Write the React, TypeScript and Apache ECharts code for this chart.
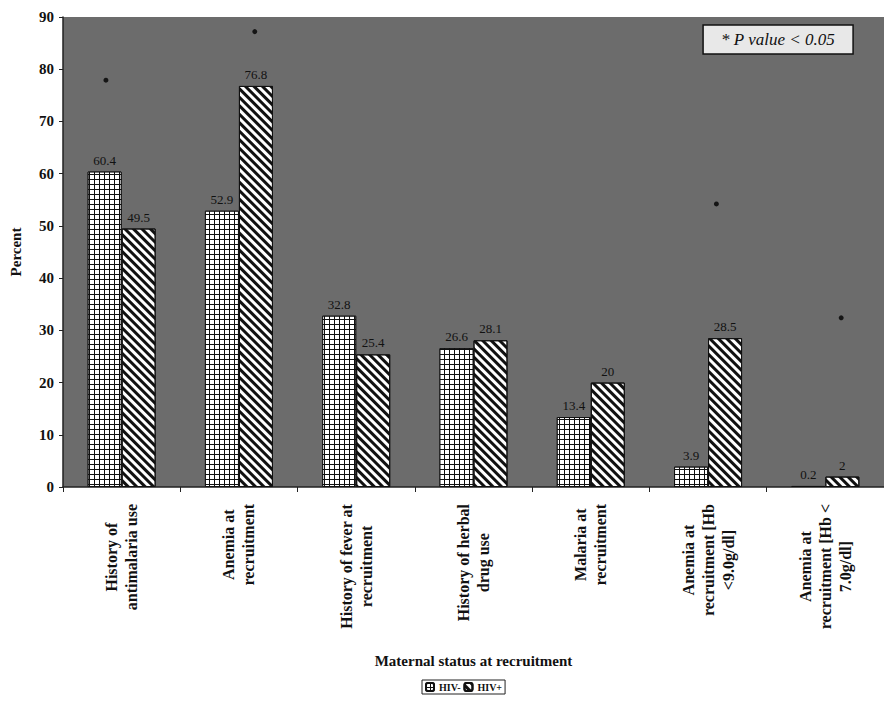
import React, { useEffect, useRef } from "react";
import * as echarts from "echarts";

const categories = [
  "History of\nantimalaria use",
  "Anemia at\nrecruitment",
  "History of fever at\nrecruitment",
  "History of herbal\ndrug use",
  "Malaria at\nrecruitment",
  "Anemia at\nrecruitment [Hb\n<9.0g/dl]",
  "Anemia at\nrecruitment [Hb <\n7.0g/dl]",
];
const hivNeg = [60.4, 52.9, 32.8, 26.6, 13.4, 3.9, 0.2];
const hivPos = [49.5, 76.8, 25.4, 28.1, 20, 28.5, 2];
// significance markers (position along the category axis, height in percent)
const markerX = [0.366, 1.635, 5.571, 6.635];
const markerY = [77.9, 87.2, 54.2, 32.4];

const SERIF = "'Liberation Serif', 'Times New Roman', serif";

export default function App() {
  const ref = useRef<HTMLDivElement>(null);
  useEffect(() => {
    if (!ref.current) return;
    const chart = echarts.init(ref.current, undefined, { renderer: "svg" });
    const labelStyle = {
      show: true,
      position: "top",
      distance: 5,
      fontFamily: SERIF,
      fontSize: 13,
      color: "#111",
    };
    chart.setOption({
      animation: false,
      backgroundColor: "#ffffff",
      title: {
        text: "* P value < 0.05",
        right: 31,
        top: 25,
        padding: [6, 18],
        backgroundColor: "#e8e8e8",
        borderColor: "#111",
        borderWidth: 1.5,
        textStyle: {
          fontFamily: SERIF,
          fontStyle: "italic",
          fontWeight: "normal",
          fontSize: 17,
          color: "#111",
        },
      },
      legend: {
        data: ["HIV-", "HIV+"],
        left: 422,
        top: 680,
        padding: [2, 3],
        itemWidth: 8,
        itemHeight: 8,
        itemGap: 3,
        backgroundColor: "#fff",
        borderColor: "#222",
        borderWidth: 1,
        textStyle: {
          fontFamily: SERIF,
          fontSize: 10,
          fontWeight: "bold",
          color: "#111",
        },
      },
      grid: {
        left: 62,
        right: 0,
        top: 17,
        bottom: 219,
        show: true,
        backgroundColor: "#6c6c6c",
        borderWidth: 0,
      },
      xAxis: [
        {
          type: "category",
          data: categories,
          name: "Maternal status at recruitment",
          nameLocation: "middle",
          nameGap: 166,
          nameTextStyle: {
            fontFamily: SERIF,
            fontSize: 15,
            fontWeight: "bold",
            color: "#111",
          },
          axisLine: { lineStyle: { color: "#222", width: 1.5 } },
          axisTick: { show: true, length: 5, lineStyle: { color: "#222" } },
          axisLabel: {
            interval: 0,
            rotate: 90,
            margin: 17,
            formatter: (v: string) =>
              v
                .split("\n")
                .map((l) => "{c|" + l + "}")
                .join("\n"),
            rich: {
              c: {
                align: "center",
                fontFamily: SERIF,
                fontSize: 16,
                fontWeight: "bold",
                lineHeight: 20,
                color: "#111",
              },
            },
          },
        },
        {
          type: "value",
          min: 0,
          max: 7,
          show: false,
        },
      ],
      yAxis: {
        type: "value",
        min: 0,
        max: 90,
        interval: 10,
        name: "Percent",
        nameLocation: "middle",
        nameGap: 40,
        nameTextStyle: {
          fontFamily: SERIF,
          fontSize: 15,
          fontWeight: "bold",
          color: "#111",
        },
        axisLine: { show: true, lineStyle: { color: "#222", width: 1.5 } },
        axisTick: { show: true, length: 4, lineStyle: { color: "#222" } },
        splitLine: { show: false },
        axisLabel: {
          margin: 9,
          fontFamily: SERIF,
          fontSize: 15,
          fontWeight: "bold",
          color: "#111",
        },
      },
      series: [
        {
          name: "HIV-",
          type: "bar",
          data: hivNeg,
          barWidth: 34,
          barGap: "0%",
          itemStyle: {
            color: "#111",
            borderColor: "#111",
            borderWidth: 1,
            decal: {
              symbol: "rect",
              color: "#ffffff",
              dashArrayX: [4, 1],
              dashArrayY: [4, 1],
              symbolSize: 1,
              rotation: 0,
            },
          },
          label: labelStyle,
        },
        {
          name: "HIV+",
          type: "bar",
          data: hivPos,
          barWidth: 34,
          barGap: "0%",
          itemStyle: {
            color: "#ffffff",
            borderColor: "#111",
            borderWidth: 1,
            decal: {
              symbol: "rect",
              color: "#111",
              dashArrayX: [1, 0],
              dashArrayY: [3, 3],
              symbolSize: 1,
              rotation: Math.PI / 4,
            },
          },
          label: labelStyle,
        },
        {
          name: "sig",
          type: "scatter",
          xAxisIndex: 1,
          data: markerX.map((x, i) => [x, markerY[i]]),
          symbol: "circle",
          symbolSize: 5,
          itemStyle: { color: "#000" },
        },
      ],
    });
    return () => chart.dispose();
  }, []);
  return (
    <div
      ref={ref}
      style={{ position: "fixed", left: 0, top: 0, width: 884, height: 706 }}
    />
  );
}
